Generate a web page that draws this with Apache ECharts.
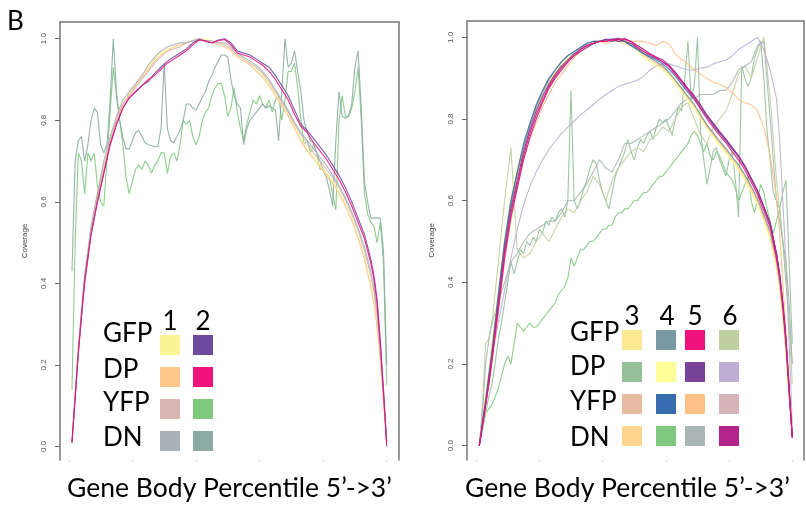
<!DOCTYPE html>
<html>
<head>
<meta charset="utf-8">
<script src="https://cdn.jsdelivr.net/npm/echarts@6/dist/echarts.min.js"></script>
<style>
  html, body { margin: 0; padding: 0; background: #fff; }
  #chart { width: 806px; height: 510px; }
</style>
</head>
<body>
<div id="chart"></div>
<script>
// gene body percentiles (smooth curves are read every 2nd percentile, noisy ones every percentile)
const PCT = [1,2,3,4,5,7,9,11,13,15,17,19,21,23,25,27,29,31,33,35,37,39,41,43,45,47,49,51,53,55,57,59,61,63,65,67,69,71,73,75,77,79,81,83,85,87,89,91,93,95,96,97,98,99,100];
const PCT100 = [1,2,3,4,5,6,7,8,9,10,11,12,13,14,15,16,17,18,19,20,21,22,23,24,25,26,27,28,29,30,31,32,33,34,35,36,37,38,39,40,41,42,43,44,45,46,47,48,49,50,51,52,53,54,55,56,57,58,59,60,61,62,63,64,65,66,67,68,69,70,71,72,73,74,75,76,77,78,79,80,81,82,83,84,85,86,87,88,89,90,91,92,93,94,95,96,97,98,99,100];

const ROW_LABELS = ['GFP', 'DP', 'YFP', 'DN'];
const LEFT_COLS = ['1', '2'];
const RIGHT_COLS = ['3', '4', '5', '6'];
const X_TITLE = 'Gene Body Percentile 5\u2019->3\u2019';
const Y_TICKS = [0, 0.2, 0.4, 0.6, 0.8, 1.0];
const X_TICKS = [0, 20, 40, 60, 80, 100];

// ---- left panel (samples 1, 2) ----
const L_GFP1 = [0.01,0.13,0.24,0.33,0.42,0.54,0.62,0.69,0.75,0.80,0.84,0.865,0.885,0.905,0.93,0.95,0.965,0.975,0.98,0.985,0.99,0.995,0.998,1.0,0.995,0.99,0.985,0.975,0.96,0.95,0.94,0.925,0.91,0.89,0.865,0.84,0.815,0.785,0.755,0.73,0.71,0.69,0.67,0.65,0.625,0.595,0.56,0.515,0.465,0.40,0.36,0.30,0.22,0.12,0.01];
const L_DP1 = [0.01,0.13,0.24,0.33,0.41,0.53,0.62,0.69,0.75,0.80,0.84,0.865,0.885,0.905,0.925,0.945,0.96,0.97,0.98,0.985,0.99,0.995,1.0,0.995,0.99,0.985,0.98,0.97,0.955,0.945,0.935,0.92,0.905,0.885,0.86,0.835,0.81,0.78,0.75,0.725,0.705,0.685,0.665,0.645,0.62,0.59,0.555,0.51,0.46,0.39,0.35,0.29,0.21,0.11,0.01];
const L_YFP1 = [0.01,0.12,0.23,0.33,0.41,0.53,0.61,0.68,0.75,0.80,0.84,0.86,0.88,0.90,0.92,0.94,0.955,0.97,0.975,0.98,0.99,0.995,1.0,0.995,0.99,0.99,0.985,0.975,0.96,0.95,0.94,0.93,0.915,0.895,0.87,0.845,0.82,0.79,0.765,0.745,0.72,0.70,0.68,0.66,0.635,0.605,0.57,0.53,0.48,0.42,0.38,0.32,0.23,0.12,0.01];
const L_DN1 = [0.01,0.13,0.24,0.34,0.42,0.54,0.62,0.70,0.76,0.81,0.85,0.87,0.89,0.91,0.935,0.955,0.97,0.98,0.985,0.99,0.99,0.995,1.0,0.995,0.995,0.99,0.99,0.98,0.965,0.955,0.945,0.935,0.92,0.90,0.875,0.85,0.825,0.795,0.77,0.75,0.73,0.71,0.69,0.665,0.64,0.61,0.575,0.535,0.49,0.43,0.39,0.33,0.24,0.13,0.01];
const L_GFP2 = [0.01,0.12,0.23,0.32,0.41,0.52,0.60,0.67,0.74,0.79,0.83,0.855,0.87,0.885,0.895,0.915,0.93,0.945,0.955,0.965,0.975,0.99,0.998,0.993,0.99,0.997,1.0,0.99,0.97,0.965,0.96,0.95,0.94,0.93,0.91,0.885,0.86,0.825,0.79,0.775,0.755,0.735,0.715,0.69,0.665,0.635,0.60,0.56,0.52,0.46,0.42,0.36,0.26,0.14,0.01];
const L_DP2 = [0.01,0.12,0.23,0.32,0.40,0.52,0.60,0.67,0.74,0.79,0.83,0.855,0.87,0.885,0.90,0.91,0.925,0.94,0.95,0.96,0.97,0.985,0.997,0.995,0.99,0.995,0.998,0.985,0.965,0.96,0.955,0.945,0.935,0.92,0.90,0.875,0.85,0.815,0.785,0.77,0.745,0.725,0.705,0.68,0.655,0.625,0.59,0.55,0.51,0.45,0.41,0.35,0.25,0.13,0.0];
const L_YFP2 = [
  0.14,0.50,0.72,0.70,0.62,0.72,0.70,0.72,0.64,0.60,
  0.59,0.70,0.82,0.93,0.86,0.80,0.74,0.66,0.62,0.65,
  0.68,0.69,0.68,0.70,0.69,0.67,0.69,0.70,0.72,0.72,
  0.67,0.71,0.72,0.70,0.74,0.80,0.79,0.80,0.76,0.74,
  0.76,0.80,0.82,0.83,0.86,0.88,0.89,0.89,0.86,0.81,
  0.83,0.88,0.82,0.78,0.75,0.79,0.82,0.85,0.84,0.86,
  0.84,0.83,0.85,0.82,0.85,0.86,0.80,0.85,0.92,0.92,
  0.94,0.88,0.80,0.74,0.75,0.72,0.74,0.72,0.68,0.68,
  0.67,0.66,0.62,0.58,0.80,0.86,0.81,0.81,0.83,0.87,
  0.93,0.80,0.62,0.57,0.55,0.54,0.50,0.55,0.45,0.15];
const L_DN2 = [
  0.43,0.70,0.75,0.76,0.70,0.74,0.80,0.83,0.82,0.74,
  0.72,0.74,0.85,1.00,0.87,0.80,0.76,0.73,0.73,0.75,
  0.77,0.775,0.76,0.745,0.74,0.738,0.735,0.735,0.78,0.94,
  0.78,0.75,0.745,0.76,0.776,0.80,0.84,0.84,0.83,0.825,
  0.84,0.857,0.87,0.895,0.91,0.93,0.945,0.96,0.96,0.955,
  0.90,0.86,0.84,0.83,0.74,0.78,0.80,0.81,0.82,0.83,
  0.84,0.83,0.835,0.83,0.825,0.75,0.87,1.00,0.93,0.94,
  0.97,0.92,0.87,0.80,0.77,0.75,0.745,0.72,0.70,0.68,
  0.66,0.63,0.59,0.75,0.87,0.81,0.805,0.81,0.84,0.93,
  0.97,0.83,0.65,0.60,0.56,0.56,0.56,0.56,0.48,0.20];

// ---- right panel (samples 3..6) ----
const R_GFP3 = [0,0.06,0.12,0.18,0.24,0.37,0.50,0.60,0.67,0.73,0.78,0.82,0.86,0.89,0.91,0.93,0.95,0.96,0.97,0.98,0.99,0.99,0.995,0.99,0.995,0.99,0.985,0.97,0.955,0.945,0.935,0.925,0.91,0.89,0.87,0.85,0.83,0.805,0.78,0.76,0.74,0.72,0.70,0.68,0.655,0.625,0.595,0.555,0.51,0.44,0.39,0.32,0.23,0.12,0.02];
const R_GFP4 = [0,0.06,0.11,0.17,0.23,0.36,0.49,0.59,0.67,0.73,0.785,0.83,0.865,0.895,0.92,0.94,0.955,0.965,0.975,0.985,0.99,0.99,0.99,0.995,0.99,0.99,0.98,0.97,0.96,0.95,0.94,0.93,0.915,0.895,0.875,0.855,0.835,0.81,0.785,0.765,0.745,0.727,0.707,0.687,0.663,0.635,0.605,0.565,0.525,0.455,0.405,0.335,0.245,0.13,0.02];
const R_GFP5 = [0,0.05,0.10,0.15,0.21,0.34,0.47,0.57,0.64,0.71,0.765,0.81,0.845,0.88,0.905,0.925,0.94,0.955,0.97,0.98,0.985,0.99,0.99,0.993,0.995,0.997,0.99,0.975,0.965,0.958,0.95,0.94,0.928,0.91,0.89,0.87,0.85,0.825,0.80,0.78,0.76,0.742,0.72,0.70,0.675,0.645,0.615,0.575,0.535,0.46,0.41,0.34,0.25,0.13,0.02];
const R_GFP6 = [0,0.10,0.25,0.26,0.30,0.45,0.60,0.73,0.48,0.46,0.47,0.50,0.52,0.50,0.53,0.56,0.58,0.57,0.60,0.62,0.66,0.64,0.60,0.65,0.68,0.70,0.72,0.73,0.72,0.75,0.76,0.78,0.77,0.80,0.83,0.84,0.80,0.76,0.74,0.78,0.80,0.82,0.86,0.91,0.93,0.90,0.95,1.0,0.85,0.65,0.58,0.50,0.42,0.30,0.15];
const R_DP3 = [
  0.00,0.04,0.08,0.12,0.15,0.20,0.26,0.30,0.35,0.40,
  0.45,0.42,0.45,0.48,0.47,0.50,0.49,0.51,0.50,0.53,
  0.52,0.55,0.54,0.56,0.55,0.57,0.58,0.56,0.60,0.87,
  0.60,0.58,0.60,0.63,0.65,0.68,0.70,0.69,0.65,0.62,
  0.60,0.58,0.62,0.66,0.68,0.70,0.72,0.75,0.72,0.70,
  0.73,0.75,0.74,0.76,0.77,0.75,0.78,0.80,0.79,0.80,
  0.78,0.76,0.80,0.83,0.82,0.90,0.99,0.85,0.88,1.00,
  0.77,0.70,0.64,0.68,0.72,0.73,0.70,0.68,0.66,0.70,
  0.72,0.65,0.56,0.93,0.90,0.88,0.90,0.95,0.97,0.99,
  0.90,0.77,0.70,0.62,0.60,0.58,0.62,0.65,0.45,0.25];
const R_DP4 = [0,0.06,0.12,0.18,0.25,0.38,0.51,0.61,0.68,0.74,0.79,0.83,0.865,0.895,0.915,0.935,0.95,0.96,0.97,0.98,0.985,0.99,0.99,0.995,0.99,0.985,0.98,0.965,0.95,0.94,0.93,0.92,0.905,0.885,0.865,0.845,0.825,0.80,0.775,0.755,0.735,0.715,0.695,0.675,0.65,0.62,0.59,0.55,0.505,0.435,0.385,0.315,0.225,0.12,0.02];
const R_DP5 = [0,0.05,0.10,0.16,0.22,0.35,0.48,0.58,0.65,0.72,0.775,0.82,0.855,0.885,0.91,0.93,0.945,0.96,0.97,0.98,0.985,0.99,0.995,0.995,0.998,0.99,0.985,0.975,0.965,0.955,0.948,0.94,0.93,0.912,0.893,0.873,0.855,0.832,0.808,0.788,0.768,0.75,0.73,0.71,0.685,0.655,0.625,0.585,0.545,0.47,0.42,0.35,0.26,0.14,0.02];
const R_DP6 = [0,0.06,0.12,0.17,0.22,0.30,0.38,0.46,0.53,0.59,0.635,0.67,0.70,0.725,0.745,0.765,0.78,0.795,0.81,0.822,0.835,0.848,0.86,0.87,0.88,0.885,0.89,0.895,0.905,0.92,0.93,0.935,0.935,0.93,0.925,0.92,0.92,0.925,0.927,0.935,0.94,0.944,0.955,0.97,0.98,0.99,1.0,0.97,0.92,0.85,0.75,0.60,0.45,0.25,0.05];
const R_YFP3 = [0,0.05,0.11,0.17,0.23,0.36,0.49,0.59,0.66,0.72,0.77,0.815,0.85,0.88,0.905,0.925,0.945,0.96,0.97,0.98,0.985,0.99,0.99,0.995,0.995,0.99,0.985,0.975,0.96,0.95,0.94,0.928,0.913,0.895,0.875,0.855,0.835,0.81,0.787,0.767,0.747,0.728,0.708,0.688,0.663,0.633,0.603,0.563,0.52,0.45,0.40,0.33,0.24,0.13,0.02];
const R_YFP4 = [0,0.06,0.11,0.17,0.23,0.37,0.50,0.60,0.67,0.74,0.79,0.835,0.87,0.90,0.92,0.94,0.955,0.965,0.975,0.985,0.99,0.99,0.995,0.99,0.995,0.99,0.98,0.97,0.96,0.952,0.945,0.935,0.922,0.905,0.885,0.865,0.848,0.826,0.805,0.785,0.765,0.747,0.727,0.707,0.683,0.653,0.623,0.583,0.543,0.47,0.42,0.35,0.26,0.14,0.02];
const R_YFP5 = [0,0.05,0.10,0.15,0.20,0.33,0.45,0.55,0.63,0.70,0.75,0.79,0.83,0.86,0.89,0.91,0.93,0.95,0.965,0.975,0.985,0.99,0.985,0.99,0.995,0.99,0.99,0.99,0.99,0.985,0.98,0.99,0.985,0.96,0.945,0.935,0.92,0.91,0.90,0.89,0.885,0.878,0.865,0.848,0.84,0.835,0.82,0.78,0.71,0.61,0.52,0.40,0.28,0.15,0.03];
const R_YFP6 = [0,0.05,0.10,0.16,0.22,0.35,0.48,0.58,0.65,0.715,0.77,0.81,0.845,0.875,0.90,0.92,0.94,0.955,0.965,0.975,0.985,0.99,0.99,0.995,0.995,0.995,0.99,0.98,0.97,0.96,0.95,0.94,0.93,0.912,0.892,0.872,0.852,0.83,0.806,0.786,0.766,0.746,0.726,0.706,0.68,0.65,0.62,0.58,0.54,0.465,0.415,0.345,0.255,0.135,0.02];
const R_DN3 = [0,0.06,0.12,0.18,0.24,0.37,0.50,0.60,0.67,0.73,0.78,0.825,0.86,0.89,0.91,0.93,0.945,0.96,0.97,0.98,0.985,0.99,0.995,0.99,0.99,0.985,0.98,0.97,0.955,0.945,0.935,0.925,0.91,0.892,0.872,0.852,0.832,0.808,0.783,0.762,0.742,0.722,0.702,0.682,0.657,0.627,0.597,0.557,0.512,0.44,0.39,0.32,0.23,0.12,0.02];
const R_DN4 = [
  0.00,0.04,0.08,0.09,0.10,0.12,0.14,0.17,0.20,0.22,
  0.20,0.25,0.30,0.29,0.28,0.29,0.30,0.29,0.29,0.30,
  0.31,0.32,0.33,0.34,0.35,0.37,0.38,0.39,0.41,0.46,
  0.44,0.46,0.48,0.48,0.49,0.50,0.50,0.51,0.52,0.53,
  0.53,0.54,0.54,0.56,0.57,0.57,0.58,0.58,0.59,0.60,
  0.60,0.61,0.62,0.62,0.63,0.64,0.65,0.66,0.66,0.67,
  0.68,0.69,0.70,0.71,0.72,0.73,0.74,0.76,0.77,0.76,
  0.74,0.72,0.74,0.71,0.70,0.72,0.71,0.69,0.67,0.66,
  0.65,0.63,0.60,0.62,0.64,0.66,0.60,0.57,0.60,0.64,
  0.62,0.58,0.55,0.52,0.55,0.58,0.50,0.40,0.30,0.20];
const R_DN5 = [0,0.08,0.20,0.26,0.30,0.35,0.40,0.45,0.47,0.50,0.52,0.53,0.54,0.55,0.55,0.57,0.60,0.60,0.62,0.64,0.67,0.70,0.68,0.67,0.70,0.74,0.74,0.75,0.76,0.77,0.78,0.79,0.80,0.82,0.84,0.85,0.85,0.86,0.86,0.86,0.87,0.87,0.89,0.92,0.93,0.94,0.98,0.99,0.80,0.60,0.55,0.50,0.45,0.35,0.20];
const R_DN6 = [0,0.05,0.10,0.15,0.21,0.33,0.46,0.56,0.63,0.70,0.755,0.80,0.84,0.875,0.90,0.92,0.94,0.955,0.965,0.975,0.985,0.99,0.99,0.995,0.99,0.995,0.99,0.98,0.97,0.96,0.952,0.945,0.932,0.915,0.895,0.875,0.857,0.835,0.81,0.79,0.77,0.75,0.73,0.71,0.685,0.655,0.625,0.585,0.545,0.47,0.42,0.35,0.26,0.14,0.02];

// series in drawing order: panel, legend row/col, x, y, colour
const SERIES = [
  { g: 0, row: 2, col: 1, x: PCT100, y: L_YFP2, color: '#7fc97f' },
  { g: 0, row: 3, col: 1, x: PCT100, y: L_DN2, color: '#8aaaa3' },
  { g: 0, row: 0, col: 0, x: PCT, y: L_GFP1, color: '#fcf595' },
  { g: 0, row: 1, col: 0, x: PCT, y: L_DP1, color: '#fdc78a' },
  { g: 0, row: 2, col: 0, x: PCT, y: L_YFP1, color: '#d8b5b2' },
  { g: 0, row: 3, col: 0, x: PCT, y: L_DN1, color: '#a9b1b8' },
  { g: 0, row: 0, col: 1, x: PCT, y: L_GFP2, color: '#6c4a9e' },
  { g: 0, row: 1, col: 1, x: PCT, y: L_DP2, color: '#f0127c' },

  { g: 1, row: 3, col: 1, x: PCT100, y: R_DN4, color: '#7fc97f' },
  { g: 1, row: 1, col: 0, x: PCT100, y: R_DP3, color: '#93bf99' },
  { g: 1, row: 0, col: 3, x: PCT, y: R_GFP6, color: '#bfcf9f' },
  { g: 1, row: 3, col: 2, x: PCT, y: R_DN5, color: '#a9b6b5' },
  { g: 1, row: 1, col: 3, x: PCT, y: R_DP6, color: '#beaed4' },
  { g: 1, row: 2, col: 2, x: PCT, y: R_YFP5, color: '#fdc086' },
  { g: 1, row: 0, col: 0, x: PCT, y: R_GFP3, color: '#fee791' },
  { g: 1, row: 1, col: 1, x: PCT, y: R_DP4, color: '#ffff99' },
  { g: 1, row: 2, col: 0, x: PCT, y: R_YFP3, color: '#e8bba3' },
  { g: 1, row: 2, col: 3, x: PCT, y: R_YFP6, color: '#d6b3b8' },
  { g: 1, row: 3, col: 0, x: PCT, y: R_DN3, color: '#fdd58e' },
  { g: 1, row: 0, col: 1, x: PCT, y: R_GFP4, color: '#7a9aa3' },
  { g: 1, row: 2, col: 1, x: PCT, y: R_YFP4, color: '#386cb0' },
  { g: 1, row: 1, col: 2, x: PCT, y: R_DP5, color: '#784399' },
  { g: 1, row: 3, col: 3, x: PCT, y: R_DN6, color: '#b3258c' },
  { g: 1, row: 0, col: 2, x: PCT, y: R_GFP5, color: '#f0127c' }
];

// ---- layout ----
const BIG_FONT = 'Lato';
const BIG_SIZE = 26;
const TITLE_SIZE = 26.5;
const BOX = '#777';
const PANELS = [
  { grid: { left: 60, top: 22, width: 339, height: 438 }, yMin: -0.033, yMax: 1.041, xMin: -2.77, xMax: 103.87,
    titleShift: 0,
    cols: LEFT_COLS, textX: 103, swX: [160, 193], headX: [170, 203], headY: 322,
    textY: [334, 369.5, 403, 438], swY: [335, 367, 399, 431] },
  { grid: { left: 467, top: 21, width: 337, height: 439 }, yMin: -0.035, yMax: 1.04, xMin: -2.89, xMax: 103.7,
    titleShift: -8,
    cols: RIGHT_COLS, textX: 570, swX: [622, 656, 685, 719], headX: [632, 667, 695, 730], headY: 317,
    textY: [333, 367, 402, 437.5], swY: [330, 362, 394, 426] }
];

const chart = echarts.init(document.getElementById('chart'), null, { renderer: 'canvas' });

const grids = [], xAxes = [], yAxes = [], graphics = [];
PANELS.forEach((p, gi) => {
  grids.push(Object.assign({ containLabel: false }, p.grid));
  // bottom axis: only faint ticks and the title
  const pad = p.titleShift < 0 ? [0, -2 * p.titleShift, 0, 0] : [0, 0, 0, 2 * p.titleShift];
  xAxes.push({
    gridIndex: gi, type: 'value', position: 'bottom', min: p.xMin, max: p.xMax,
    axisLine: { show: false, onZero: false }, splitLine: { show: false },
    axisTick: { show: true, customValues: X_TICKS, length: 2, lineStyle: { color: '#ddd' } },
    axisLabel: { show: false },
    name: X_TITLE, nameLocation: 'middle', nameGap: 15,
    nameTextStyle: { fontFamily: BIG_FONT, fontSize: TITLE_SIZE, color: '#000', padding: pad }
  });
  // top border
  xAxes.push({
    gridIndex: gi, type: 'value', position: 'top', min: p.xMin, max: p.xMax,
    axisLine: { show: true, onZero: false, lineStyle: { color: BOX, width: 1.5 } },
    axisTick: { show: false }, axisLabel: { show: false }, splitLine: { show: false }
  });
  yAxes.push({
    gridIndex: gi, type: 'value', position: 'left', min: p.yMin, max: p.yMax,
    axisLine: { show: true, onZero: false, lineStyle: { color: BOX, width: 1.5 } },
    splitLine: { show: false },
    axisTick: { show: true, customValues: Y_TICKS, length: 5, lineStyle: { color: '#666' } },
    axisLabel: { show: true, customValues: Y_TICKS, rotate: 90, margin: 12,
      fontFamily: 'Liberation Sans', fontSize: 8, color: '#555',
      formatter: v => v.toFixed(1) },
    name: 'Coverage', nameLocation: 'middle', nameRotate: 90, nameGap: 31,
    nameTextStyle: { fontFamily: 'Liberation Sans', fontSize: 8, color: '#444' }
  });
  // right border
  yAxes.push({
    gridIndex: gi, type: 'value', position: 'right', min: p.yMin, max: p.yMax,
    axisLine: { show: true, onZero: false, lineStyle: { color: BOX, width: 1.5 } },
    axisTick: { show: false }, axisLabel: { show: false }, splitLine: { show: false }
  });

  // legend table: row labels, column headers, colour swatches
  ROW_LABELS.forEach((lab, r) => {
    graphics.push({ type: 'text', x: p.textX, y: p.textY[r],
      style: { text: lab, font: BIG_SIZE + 'px ' + BIG_FONT, fill: '#000', textAlign: 'left', textVerticalAlign: 'middle' } });
  });
  p.cols.forEach((c, ci) => {
    graphics.push({ type: 'text', x: p.headX[ci], y: p.headY,
      style: { text: c, font: BIG_SIZE + 'px ' + BIG_FONT, fill: '#000', textAlign: 'center', textVerticalAlign: 'middle' } });
  });
  SERIES.filter(s => s.g === gi).forEach(s => {
    graphics.push({ type: 'rect', shape: { x: p.swX[s.col], y: p.swY[s.row], width: 20, height: 20 },
      style: { fill: s.color } });
  });
});

graphics.push({ type: 'text', x: 7, y: 22,
  style: { text: 'B', font: BIG_SIZE + 'px ' + BIG_FONT, fill: '#000', textAlign: 'left', textVerticalAlign: 'middle' } });

const series = SERIES.map(s => ({
  type: 'line',
  xAxisIndex: s.g * 2,
  yAxisIndex: s.g * 2,
  data: s.x.map((x, i) => [x, s.y[i]]),
  showSymbol: false,
  symbol: 'none',
  silent: true,
  lineStyle: { color: s.color, width: 1.1, opacity: 0.9 },
  z: 2
}));

chart.setOption({
  animation: false,
  backgroundColor: '#fff',
  grid: grids,
  xAxis: xAxes,
  yAxis: yAxes,
  series: series,
  graphic: graphics
});
</script>
</body>
</html>
